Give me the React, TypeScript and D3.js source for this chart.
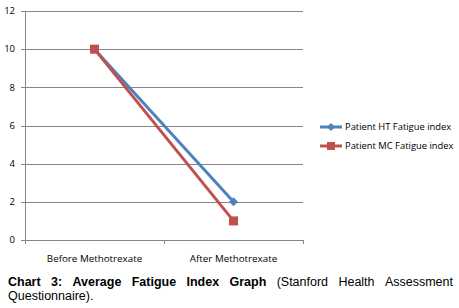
import React from "react";
import * as d3 from "d3";

const categories = ["Before Methotrexate", "After Methotrexate"];
const seriesNames = ["Patient HT Fatigue index", "Patient MC Fatigue index"];
const htValues = [10, 2];
const mcValues = [10, 1];
const yTicks = [0, 2, 4, 6, 8, 10, 12];
const colors = ["#4F81BD", "#C0504D"];

export default function App() {
  const W = 459, H = 308;
  const left = 25, right = 303, top = 11, bottom = 240;
  const x = d3.scaleBand<string>().domain(categories).range([left, right]);
  const y = d3.scaleLinear().domain([0, 12]).range([bottom, top]);
  const line = d3
    .line<number>()
    .x((_, i) => (x(categories[i]) as number) + x.bandwidth() / 2)
    .y((d) => y(d));
  const series = [htValues, mcValues];
  const font = "'Open Sans', 'DejaVu Sans', sans-serif";
  const boundaries = [left, ...categories.map((c) => (x(c) as number) + x.bandwidth())];
  const capStyle: React.CSSProperties = {
    position: "absolute",
    left: 8,
    width: 445,
    fontFamily: "'Liberation Sans', Arial, sans-serif",
    fontSize: 12.5,
    lineHeight: "14px",
    color: "#000",
    whiteSpace: "nowrap",
  };

  return (
    <div style={{ position: "absolute", left: 0, top: 0, width: W, height: H, background: "#fff" }}>
      <svg width={W} height={H} style={{ position: "absolute", left: 0, top: 0 }}>
        {yTicks.map((t) => (
          <g key={t}>
            <line x1={left - 4} x2={right} y1={Math.round(y(t)) + 0.5} y2={Math.round(y(t)) + 0.5} stroke="#868686" strokeWidth={1} />
            <text x={left - 10} y={y(t)} dy="0.35em" textAnchor="end" fontSize={9.5} fontFamily={font} fill="#000">
              {t}
            </text>
          </g>
        ))}
        <line x1={left + 0.5} x2={left + 0.5} y1={top} y2={bottom + 4} stroke="#868686" />
        {boundaries.map((b, i) => (
          <line key={i} x1={b + 0.5} x2={b + 0.5} y1={bottom} y2={bottom + 4} stroke="#868686" />
        ))}
        {categories.map((c) => (
          <text key={c} x={(x(c) as number) + x.bandwidth() / 2} y={259} dy="0.35em" textAnchor="middle" fontSize={9.8} fontFamily={font} fill="#000">
            {c}
          </text>
        ))}
        {series.map((s, si) => (
          <path key={si} d={line(s) || ""} fill="none" stroke={colors[si]} strokeWidth={3} />
        ))}
        {htValues.map((v, i) => {
          const cx = (x(categories[i]) as number) + x.bandwidth() / 2;
          const cy = y(v);
          return <path key={"d" + i} d={`M${cx},${cy - 4.5}L${cx + 4.5},${cy}L${cx},${cy + 4.5}L${cx - 4.5},${cy}Z`} fill={colors[0]} />;
        })}
        {mcValues.map((v, i) => {
          const cx = (x(categories[i]) as number) + x.bandwidth() / 2;
          const cy = y(v);
          return <rect key={"s" + i} x={cx - 4.5} y={cy - 4.5} width={9} height={9} fill={colors[1]} />;
        })}
        {seriesNames.map((n, i) => {
          const ly = 127 + i * 19;
          return (
            <g key={n}>
              <line x1={320} x2={342} y1={ly} y2={ly} stroke={colors[i]} strokeWidth={3} />
              {i === 0 ? (
                <path d={`M331,${ly - 4}L335,${ly}L331,${ly + 4}L327,${ly}Z`} fill={colors[0]} />
              ) : (
                <rect x={327} y={ly - 4} width={8} height={8} fill={colors[1]} />
              )}
              <text x={345} y={ly} dy="0.35em" fontSize={9.4} fontFamily={font} fill="#000">
                {n}
              </text>
            </g>
          );
        })}
      </svg>
      <div style={{ ...capStyle, top: 275, display: "flex", justifyContent: "space-between" }}>
        <b>Chart</b><b>3:</b><b>Average</b><b>Fatigue</b><b>Index</b><b>Graph</b>
        <span>(Stanford</span><span>Health</span><span>Assessment</span>
      </div>
      <div style={{ ...capStyle, top: 289 }}>Questionnaire).</div>
    </div>
  );
}
